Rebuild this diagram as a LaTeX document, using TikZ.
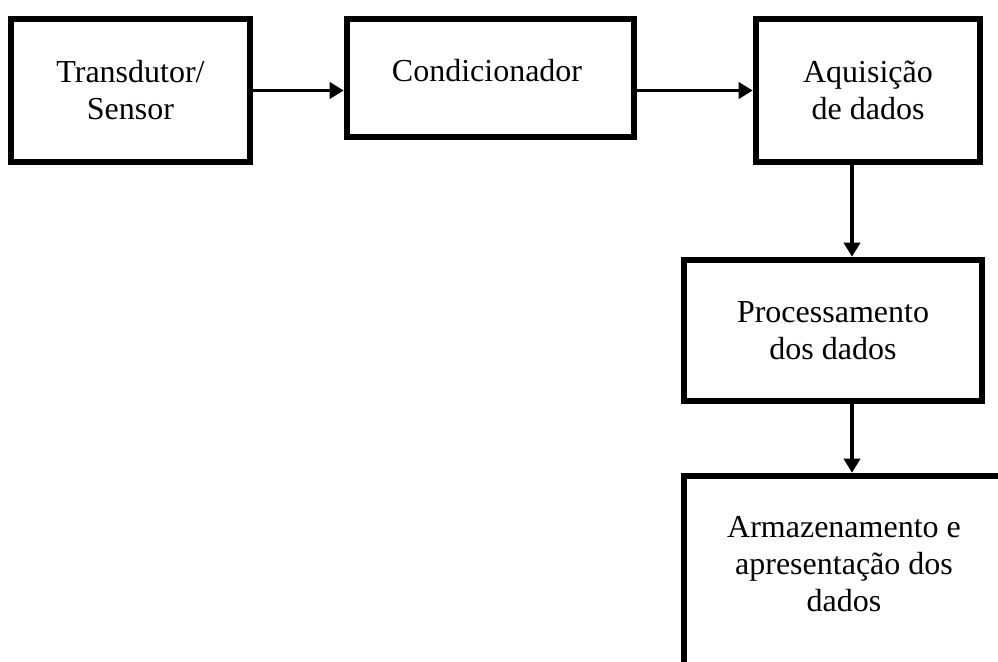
\documentclass[tikz,border=0pt]{standalone}
\usepackage{fontspec}
\setmainfont{Liberation Serif}
\usetikzlibrary{arrows.meta}
\tikzset{
  blk/.style={draw=black, line width=4.9pt, inner sep=0pt, fill=none, align=center,
              font=\fontsize{24}{27.75}\selectfont},
  txt/.style={inner sep=0pt, align=center, font=\fontsize{24}{27.75}\selectfont},
  conn/.style={draw=black, line width=2.8pt, -{Triangle[width=12pt,length=10.5pt]}}
}
\begin{document}
\begin{tikzpicture}[x=0.75pt, y=-0.75pt]
\useasboundingbox (0,0) rectangle (998,661);
\clip (0,0) rectangle (998,661);
\node[blk, minimum width=179.25pt, minimum height=107.25pt] (b1) at (130.5,90.5) {Transdutor/\\Sensor};
\node[blk, minimum width=215.25pt, minimum height=88.5pt] (b2) at (490.5,78) {};
\node[txt] (t2) at (487,71) {Condicionador};
\node[blk, minimum width=168pt, minimum height=107.25pt] (b3) at (868,90.5) {Aquisição\\de dados};
\node[blk, minimum width=223.5pt, minimum height=105.75pt] (b4) at (833,330.5) {Processamento\\dos dados};
\node[blk, minimum width=240pt, minimum height=168pt] (b5) at (844,588) {};
\node[txt] (t5) at (844,564.5) {Armazenamento e\\apresentação dos\\dados};
\coordinate (vx) at (852,0);
\draw[conn] (b1.east) -- (b2.west |- b1.east);
\draw[conn] (b2.east |- b3.west) -- (b3.west);
\draw[conn] (vx |- b3.south) -- (vx |- b4.north);
\draw[conn] (vx |- b4.south) -- (vx |- b5.north);
\end{tikzpicture}
\end{document}
